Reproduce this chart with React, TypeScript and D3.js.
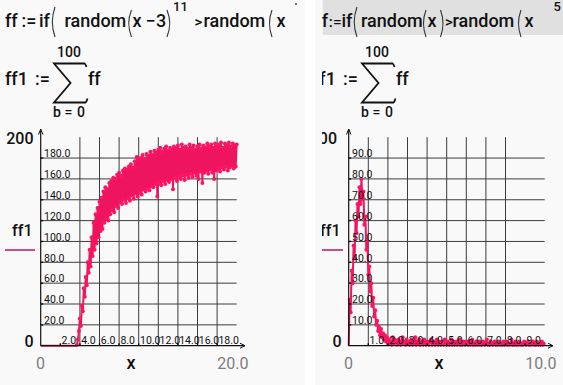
import React from 'react';
import * as d3 from 'd3';

const W = 563;
const H = 385;
const FONT = 'Roboto, "Noto Sans", sans-serif';

// sample spacing of the two plotted ranges
const leftStep = 0.1;
const rightStep = 0.05;

// ff1 of the left sheet, x = 0 .. 20
const leftValues = [
  0, 0, 0, 0, 0, 0, 0, 0, 0, 0,
  0, 0, 0, 0, 0, 0, 0, 0, 0, 0,
  0, 0, 0, 0, 0, 0, 0, 0, 0, 0,
  0, 0, 0, 0, 0, 0, 0,
  1, 6, 14,
  26, 19, 38, 33, 55, 47, 66, 58, 80, 70,
  92, 76, 104, 86, 118, 92, 126, 98, 132, 104,
  138, 110, 142, 112, 148, 118, 152, 122, 150, 120,
  156, 126, 158, 130, 161, 128, 160, 134, 164, 132,
  166, 138, 163, 136, 168, 140, 170, 137, 169, 142,
  172, 139, 174, 144, 171, 141, 177, 146, 181, 143,
  178, 147, 180, 145, 183, 150, 179, 148, 184, 151,
  182, 149, 186, 153, 183, 152, 187, 155, 185, 143,
  188, 156, 190, 154, 186, 158, 189, 155, 191, 159,
  187, 157, 190, 160, 188, 150, 191, 161, 189, 158,
  192, 162, 188, 160, 193, 163, 190, 159, 191, 164,
  189, 161, 193, 165, 190, 162, 192, 166, 188, 163,
  191, 160, 193, 167, 189, 156, 192, 166, 190, 168,
  194, 165, 191, 169, 193, 166, 190, 160, 194, 168,
  191, 170, 193, 167, 195, 171, 190, 169, 194, 172,
  192, 168, 195, 171, 191, 173, 194, 170, 192, 172,
  193,
];

// ff1 of the right sheet, x = 0 .. 10
const rightValues = [
  0, 22, 16, 36, 30, 48, 42, 60, 54, 68,
  62, 76, 68, 80, 70, 74, 58, 62, 46, 50,
  34, 38, 26, 30, 19, 23, 14, 17, 10, 12,
  7, 9, 5, 8, 4, 6, 3, 5, 2, 4,
  1,
  3, 1, 2, 0, 4, 1, 3, 2, 0, 2,
  3, 1, 0, 2, 4, 1, 2, 0, 3, 1,
  2, 0, 1, 3, 0, 2, 1, 4, 0, 2,
  1, 3, 0, 1, 2, 0, 3, 1, 0, 2,
  1, 0, 2, 3, 0, 1, 2, 0, 1, 3,
  0, 2, 1, 0, 2, 1, 0, 3, 1, 0,
  2, 1, 0, 1, 3, 0, 2, 0, 1, 2,
  0, 1, 3, 0, 1, 0, 2, 1, 0, 2,
  1, 0, 2, 0, 1, 3, 0, 1, 0, 2,
  0, 1, 2, 0, 1, 0, 2, 1, 0, 1,
  3, 0, 1, 0, 2, 1, 0, 1, 2, 0,
  1, 0, 2, 1, 0, 1, 0, 2, 0, 1,
  2, 0, 1, 0, 1, 3, 0, 1, 0, 2,
  0, 1, 0, 2, 1, 0, 1, 0, 2, 1,
  0, 1, 2, 0, 1, 0, 1, 2, 0, 1,
  0, 2, 1, 0, 1, 0, 2, 0, 1, 0,
];

const leftTicksX = [2, 4, 6, 8, 10, 12, 14, 16, 18];
const leftGridX = [4, 6, 8, 10, 12, 14, 16, 18];
const leftTicksY = [20, 40, 60, 80, 100, 120, 140, 160, 180];
const rightTicksX = [1, 2, 3, 4, 5, 6, 7, 8, 9];
const rightGridX = [1, 2, 3, 4, 5, 6, 7, 8];
const rightTicksY = [10, 20, 30, 40, 50, 60, 70, 80, 90];

// thin tall bracket used in the formulas
function paren(x0: number, x1: number, top: number, bottom: number, open: boolean) {
  const mid = (top + bottom) / 2;
  const d = open
    ? `M${x1},${top} Q${x0 - 1},${mid} ${x1},${bottom}`
    : `M${x0},${top} Q${x1 + 1},${mid} ${x0},${bottom}`;
  return <path d={d} fill="none" stroke="#333" strokeWidth={1.1} />;
}

function SumRow() {
  return (
    <g fontFamily={FONT} fill="#111" fontWeight={500}>
      <text x={5} y={85} fontSize={18}>ff1</text>
      <text x={35} y={85} fontSize={18}>:=</text>
      <text x={69} y={57} fontSize={14} textAnchor="middle">100</text>
      <path
        d="M85,63.5 L54,63.5 L70.5,83 L54,102.5 L86,102.5 M85,63.5 L86.5,67 M86,102.5 L87.5,98.5"
        fill="none"
        stroke="#111"
        strokeWidth={1.8}
      />
      <text x={88} y={85} fontSize={18}>ff</text>
      <text x={53} y={117} fontSize={14}>b</text>
      <text x={64.5} y={117} fontSize={14}>=</text>
      <text x={77} y={117} fontSize={14}>0</text>
    </g>
  );
}

interface ChartProps {
  values: number[];
  step: number;
  xMax: number;
  yMax: number;
  ticksX: number[];
  gridX: number[];
  ticksY: number[];
  xMaxLabel: string;
  yMaxLabel: string;
  yMaxRight: number;
}

function Chart(props: ChartProps) {
  const { values, step, xMax, yMax, ticksX, gridX, ticksY } = props;
  const x = d3.scaleLinear().domain([0, xMax]).range([40.7, 236.7]);
  const y = d3.scaleLinear().domain([0, yMax]).range([345.7, 137.2]);
  const pts: [number, number][] = values.map((v, i) => [i * step, v]);
  const line = d3
    .line<[number, number]>()
    .x((d) => x(d[0]))
    .y((d) => y(d[1]));
  const fmt = d3.format('.1f');
  const x0 = x(0);
  const y0 = y(0);

  return (
    <g fontFamily={FONT}>
      {/* grid */}
      {gridX.map((g) => (
        <line key={'gx' + g} x1={x(g)} x2={x(g)} y1={y(yMax)} y2={y0} stroke="#3c3c3c" strokeWidth={1} />
      ))}
      {ticksY.map((t) => (
        <line key={'gy' + t} x1={x0} x2={x(xMax)} y1={y(t)} y2={y(t)} stroke="#3c3c3c" strokeWidth={1} />
      ))}

      {/* series */}
      <path d={line(pts) || ''} fill="none" stroke="#ee1460" strokeWidth={2} strokeLinejoin="round" />
      {pts.map((p, i) =>
        p[1] > 0 ? <circle key={i} cx={x(p[0])} cy={y(p[1])} r={2} fill="#ff1464" /> : null
      )}

      {/* axes */}
      <line x1={x0} x2={x0} y1={y0} y2={129} stroke="#111" strokeWidth={1.2} />
      <path d={`M${x0 - 2.2},134.5 L${x0},129 L${x0 + 2.2},134.5`} fill="none" stroke="#111" strokeWidth={1} />
      <line x1={x0} x2={245} y1={y0} y2={y0} stroke="#111" strokeWidth={1.2} />
      <path d={`M240,${y0 - 2.5} L245,${y0} L240,${y0 + 2.5}`} fill="none" stroke="#111" strokeWidth={1} />

      {/* ticks and tick labels */}
      {ticksY.map((t) => (
        <g key={'ty' + t}>
          <line x1={x0} x2={x0 + 2.5} y1={y(t)} y2={y(t)} stroke="#111" strokeWidth={1.4} />
          <text x={x0 + 3.3} y={y(t) - 0.8} fontSize={10.5} fill="#111">{fmt(t)}</text>
        </g>
      ))}
      {ticksX.map((t) => (
        <g key={'tx' + t}>
          <line x1={x(t)} x2={x(t)} y1={y0} y2={y0 - 2.5} stroke="#111" strokeWidth={1.4} />
          <text x={x(t) + 1.3} y={y0 - 1.5} fontSize={10.5} fill="#111">{fmt(t)}</text>
        </g>
      ))}

      {/* range labels */}
      <text x={props.yMaxRight} y={143.5} fontSize={16} fontWeight={500} textAnchor="end" fill="#111">
        {props.yMaxLabel}
      </text>
      <text x={33.5} y={347} fontSize={16} fontWeight={500} textAnchor="end" fill="#111">0</text>
      <text x={36} y={368.5} fontSize={16} fill="#7d7d7d">0</text>
      <text x={248.5} y={368.5} fontSize={16} textAnchor="end" fill="#7d7d7d">{props.xMaxLabel}</text>
      <text x={131} y={368.5} fontSize={18} fontWeight={500} textAnchor="middle" fill="#111">x</text>

      {/* legend */}
      <text x={32.5} y={236} fontSize={16} fontWeight={500} textAnchor="end" fill="#111">ff1</text>
      <line x1={5} x2={35} y1={250} y2={250} stroke="#c9508a" strokeWidth={2} />
    </g>
  );
}

export default function App() {
  return (
    <div style={{ position: 'fixed', left: 0, top: 0 }}>
      <svg width={W} height={H} style={{ display: 'block' }}>
        <defs>
          <clipPath id="clipLeft">
            <rect x={0} y={0} width={305} height={H} />
          </clipPath>
          <clipPath id="clipRight">
            <rect x={322} y={0} width={W - 322} height={H} />
          </clipPath>
        </defs>
        <rect x={0} y={0} width={W} height={H} fill="#ffffff" />
        <rect x={0} y={0} width={305} height={H} fill="#f9f9f9" />
        <rect x={315} y={0} width={W - 315} height={H} fill="#f9f9f9" />

        {/* left sheet */}
        <g clipPath="url(#clipLeft)">
          <g fontFamily={FONT} fill="#111" fontSize={18} fontWeight={500}>
            <text x={5} y={27}>ff</text>
            <text x={21.5} y={27}>:=</text>
            <text x={39} y={27}>if</text>
            {paren(50.7, 55, 7, 37, true)}
            <text x={64.5} y={27}>random</text>
            {paren(127, 131.5, 10, 37, true)}
            <text x={132.5} y={27}>x</text>
            <text x={145.5} y={27}>−</text>
            <text x={156} y={27}>3</text>
            {paren(167, 171.5, 10, 37, false)}
            <text x={173} y={11} fontSize={13}>11</text>
            <text x={194.5} y={27} fontSize={15}>&gt;</text>
            <text x={203.5} y={27}>random</text>
            {paren(268, 272, 10, 37, true)}
            <text x={276.5} y={27}>x</text>
            <circle cx={296} cy={4} r={0.9} fill="#333" />
          </g>
          <SumRow />
          <Chart
            values={leftValues}
            step={leftStep}
            xMax={20}
            yMax={200}
            ticksX={leftTicksX}
            gridX={leftGridX}
            ticksY={leftTicksY}
            xMaxLabel="20.0"
            yMaxLabel="200"
            yMaxRight={33.5}
          />
        </g>

        {/* right sheet */}
        <g clipPath="url(#clipRight)">
          <rect x={322.7} y={0} width={W - 322.7} height={35} fill="#e0e0e0" />
          <g fontFamily={FONT} fill="#111" fontSize={18} fontWeight={500}>
            <text x={321.8} y={27}>f</text>
            <text x={328.8} y={27} fontSize={15.5}>:=</text>
            <text x={341.5} y={27}>if</text>
            {paren(352.5, 357, 7, 37, true)}
            <text x={361} y={27}>random</text>
            {paren(422, 426, 10, 37, true)}
            <text x={427.5} y={27}>x</text>
            {paren(440.5, 444.5, 10, 37, false)}
            <text x={445} y={27} fontSize={15}>&gt;</text>
            <text x={452.5} y={27}>random</text>
            {paren(517, 521, 10, 37, true)}
            <text x={524.5} y={27}>x</text>
            <text x={553.5} y={10.5} fontSize={13}>5</text>
          </g>
          <g transform="translate(308,0)">
            <SumRow />
            <Chart
              values={rightValues}
              step={rightStep}
              xMax={10}
              yMax={100}
              ticksX={rightTicksX}
              gridX={rightGridX}
              ticksY={rightTicksY}
              xMaxLabel="10.0"
              yMaxLabel="100"
              yMaxRight={29}
            />
          </g>
        </g>
      </svg>
    </div>
  );
}
